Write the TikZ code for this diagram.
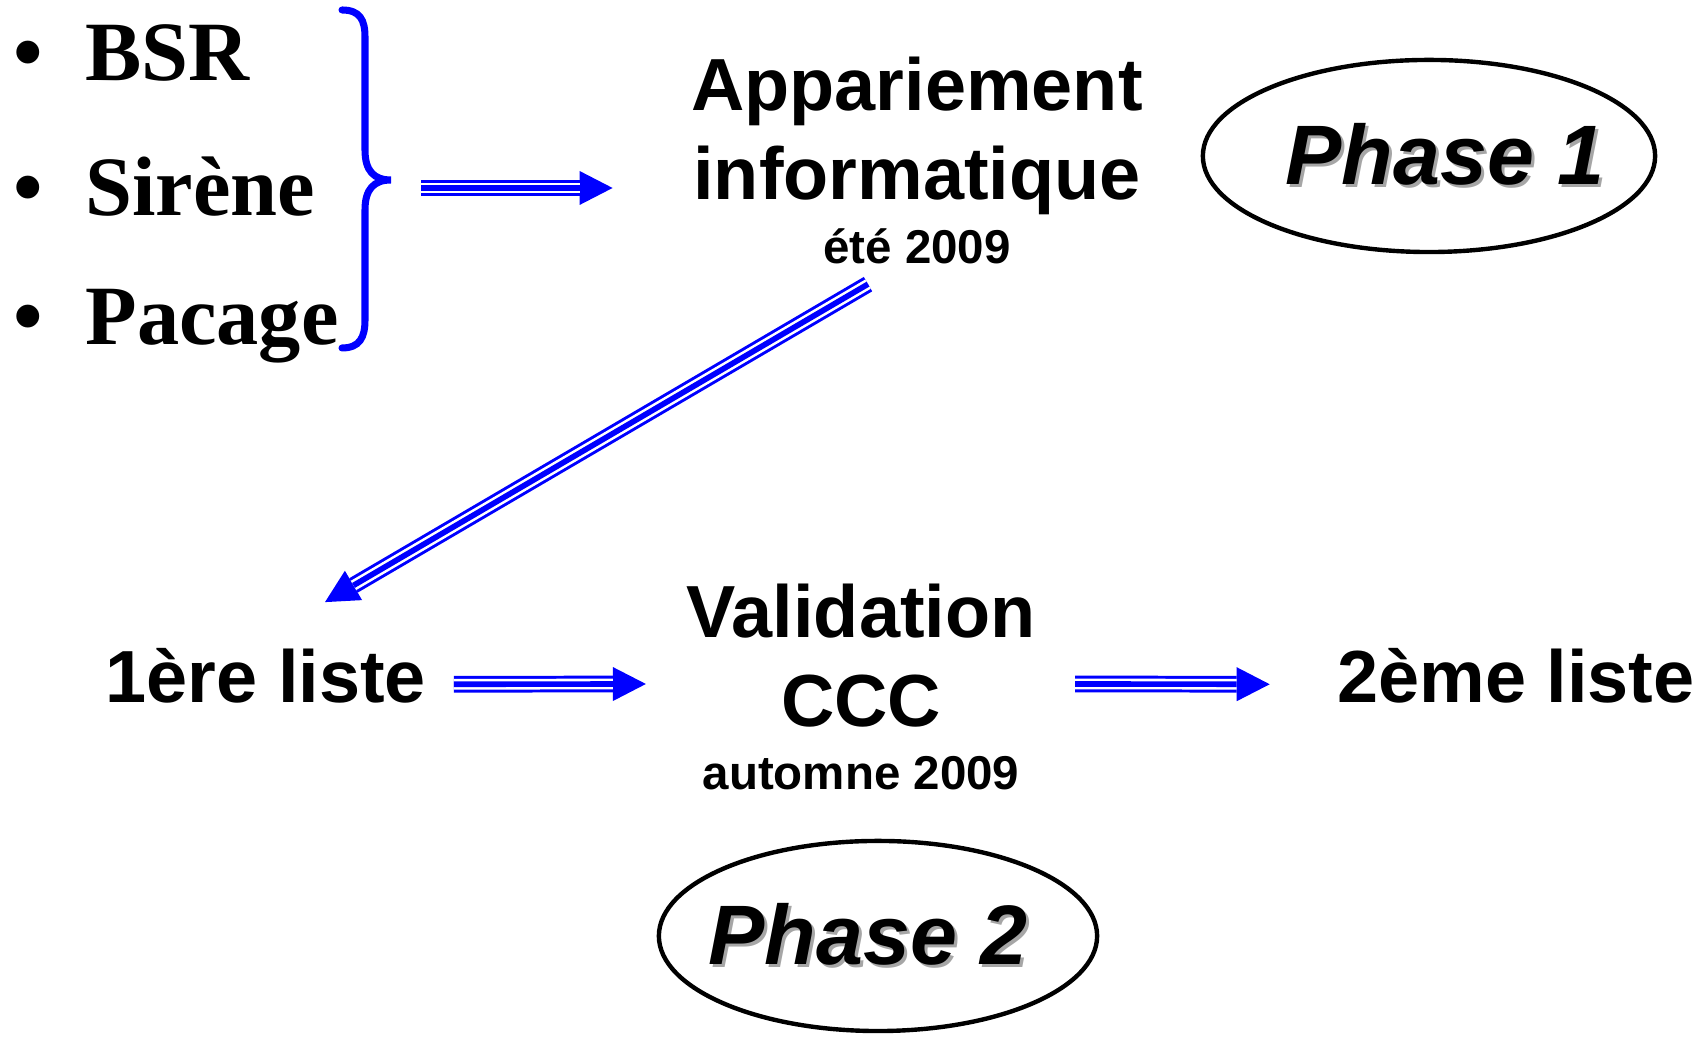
\documentclass[tikz,border=0pt]{standalone}
\usepackage{fontspec}
\setmainfont{Liberation Serif}
\setsansfont{Liberation Sans}
\usepackage{tikz}
\usetikzlibrary{arrows.meta,shapes.geometric}
\newcommand{\shadowed}[1]{\makebox[0pt][l]{\hspace{0.9pt}\raisebox{-0.9pt}{\color{gray!70}#1}}#1}
\tikzstyle{item}=[anchor=base west,inner sep=0pt,font=\bfseries\fontsize{24}{28}\selectfont]
\tikzstyle{title}=[align=center,inner sep=0pt,font=\sffamily\bfseries\fontsize{21}{25.3}\selectfont]
\tikzstyle{datetext}=[anchor=base,inner sep=0pt,font=\sffamily\bfseries\fontsize{13.5}{16}\selectfont]
\tikzstyle{phase}=[ellipse,draw,line width=1.25pt,inner sep=0pt]
\tikzstyle{phasetext}=[inner sep=0pt,font=\sffamily\bfseries\itshape\fontsize{24}{28}\selectfont]
\tikzstyle{flow}=[draw=blue,line width=4.75pt,-{Triangle[length=3.3mm,width=3.4mm,line width=0pt]},
  postaction={draw=white,line width=3.05pt,-,shorten >=3.3mm},
  postaction={draw=blue,line width=1.6pt,-,shorten >=3.3mm}]

\begin{document}
\begin{tikzpicture}[x=0.01cm,y=0.01cm]
        \useasboundingbox (0,0) rectangle (1702,1037);
        % sources
        \node[item] (bsr) at (13,956) {\textbullet\hspace{12pt}BSR};
        \node[item] (sirene) at (13,821) {\textbullet\hspace{12pt}Sirène};
        \node[item] (pacage) at (13,692) {\textbullet\hspace{12pt}Pacage};
        \draw[blue,line width=2pt,line cap=round]
          (342,1027) .. controls (360,1027) and (365,1017) .. (365,1000) -- (365,887)
          .. controls (365,866) and (374,857) .. (391,857)
          .. controls (374,857) and (365,848) .. (365,827) -- (365,717)
          .. controls (365,700) and (360,689) .. (342,689);
        \coordinate (brace tip) at (391,857);
        % phase 1
        \node[title] (appar) at (917,901) {Appariement\\informatique};
        \node[datetext] (apparDate) at (917,773) {été 2009};
        \node[phase,minimum width=4.52cm,minimum height=1.92cm] (phase1) at (1429,881) {};
        \node[phasetext] (phase1 text) at ([shift={(16,0)}]phase1.center) {\shadowed{Phase 1}};
        % phase 2
        \node[title,anchor=base] (liste1) at (266,334) {1ère liste};
        \node[title] (valid) at (861,381) {Validation\\CCC};
        \node[datetext] (validDate) at (861,247) {automne 2009};
        \node[title,anchor=base] (liste2) at (1516,334) {2ème liste};
        \node[phase,minimum width=4.38cm,minimum height=1.90cm] (phase2) at (878,101) {};
        \node[phasetext] (phase2 text) at ([shift={(-10,0)}]phase2.center) {\shadowed{Phase 2}};
        % arrows
        \draw[flow] ([shift={(30,-8)}]brace tip) -- ([shift={(-78,-52)}]appar.west);
        \draw[flow] ([shift={(-49,-19)}]apparDate.south) -- ([shift={(59,46)}]liste1.north);
        \draw[flow] ([shift={(27,-8)}]liste1.east) -- ([shift={(-40,-28)}]valid.west);
        \draw[flow] ([shift={(39,-28)}]valid.east) -- ([shift={(-67,-8)}]liste2.west);
\end{tikzpicture}
\end{document}
